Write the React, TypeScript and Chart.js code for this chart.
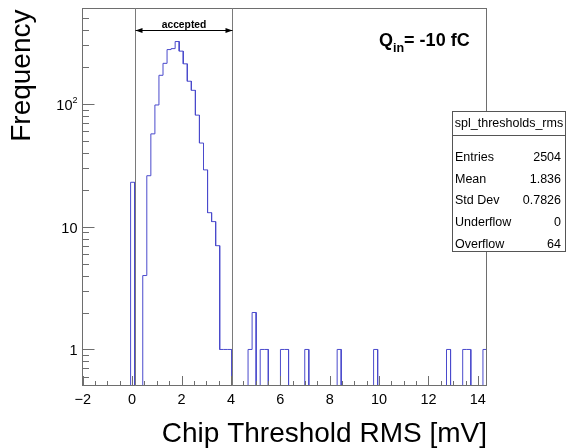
import React, { useEffect, useRef } from 'react';
import { Chart, registerables } from 'chart.js';

Chart.register(...registerables);

// ---------------- data ----------------
const X_MIN = -2.03;
const BIN_WIDTH = 0.164;
const X_MAX = X_MIN + 100 * BIN_WIDTH;
const Y_MIN = 0.504;
const Y_MAX = 604;

// 100 bins, counts
const binCounts: number[] = [
  0, 0, 0, 0, 0, 0, 0, 0, 0, 0,
  0, 0, 23, 0, 0, 4, 26, 57, 98, 171,
  214, 277, 282, 322, 269, 212, 153, 129, 81, 48,
  29, 13, 11, 7, 1, 1, 1, 0, 0, 0,
  0, 1, 2, 0, 1, 1, 0, 0, 0, 1,
  1, 0, 0, 0, 0, 1, 0, 0, 0, 0,
  0, 0, 0, 1, 0, 0, 0, 0, 0, 0,
  0, 0, 1, 0, 0, 0, 0, 0, 0, 0,
  0, 0, 0, 0, 0, 0, 0, 0, 0, 0,
  1, 0, 0, 0, 1, 1, 0, 0, 0, 1,
];

const xMajorTicks: number[] = [-2, 0, 2, 4, 6, 8, 10, 12, 14];
const xMinorTicks: number[] = [
  -1.5, -1, -0.5, 0.5, 1, 1.5, 2.5, 3, 3.5, 4.5, 5, 5.5, 6.5, 7, 7.5,
  8.5, 9, 9.5, 10.5, 11, 11.5, 12.5, 13, 13.5,
];
const yMajorTicks: number[] = [1, 10, 100];
const yMajorBase: string[] = ['1', '10', '10'];
const yMajorExp: string[] = ['', '', '2'];
const yMinorTicks: number[] = [
  0.6, 0.7, 0.8, 0.9, 2, 3, 4, 5, 6, 7, 8, 9,
  20, 30, 40, 50, 60, 70, 80, 90, 200, 300, 400, 500, 600,
];
const acceptedRange: number[] = [0.1, 4.03];
const statsTitle = 'spl_thresholds_rms';
const statsLabels: string[] = ['Entries', 'Mean', 'Std Dev', 'Underflow', 'Overflow'];
const statsValues: string[] = ['2504', '1.836', '0.7826', '0', '64'];
const xTitle = 'Chip Threshold RMS [mV]';
const yTitle = 'Frequency';

// ---------------- styles ----------------
const FONT = '"Liberation Sans", Arial, Helvetica, sans-serif';
const HIST_COLOR = '#4a4acc';
const AXIS_COLOR = '#6e6e6e';

const stepPoints = (() => {
  const pts: { x: number; y: number }[] = [];
  binCounts.forEach((c, k) => {
    const x0 = X_MIN + k * BIN_WIDTH;
    const x1 = x0 + BIN_WIDTH;
    const y = c > 0 ? c : 0.01;
    pts.push({ x: x0, y }, { x: x1, y });
  });
  return pts;
})();

const overlayPlugin = {
  id: 'rootOverlay',
  afterDraw(chart: any) {
    const ctx: CanvasRenderingContext2D = chart.ctx;
    const { left, right, top, bottom } = chart.chartArea;
    const xs = chart.scales.x;
    const ys = chart.scales.y;
    ctx.save();

    // frame
    ctx.strokeStyle = AXIS_COLOR;
    ctx.lineWidth = 1;
    ctx.strokeRect(left + 0.5, top + 0.5, right - left - 1, bottom - top - 1);

    // x ticks (inward)
    ctx.beginPath();
    xMajorTicks.forEach((v) => {
      const px = Math.round(xs.getPixelForValue(v)) + 0.5;
      ctx.moveTo(px, bottom);
      ctx.lineTo(px, bottom - 10);
    });
    xMinorTicks.forEach((v) => {
      const px = Math.round(xs.getPixelForValue(v)) + 0.5;
      ctx.moveTo(px, bottom);
      ctx.lineTo(px, bottom - 5);
    });
    // y ticks (inward)
    yMajorTicks.forEach((v) => {
      const py = Math.round(ys.getPixelForValue(v)) + 0.5;
      ctx.moveTo(left, py);
      ctx.lineTo(left + 12.5, py);
    });
    yMinorTicks.forEach((v) => {
      const py = Math.round(ys.getPixelForValue(v)) + 0.5;
      ctx.moveTo(left, py);
      ctx.lineTo(left + 7, py);
    });
    ctx.stroke();

    // accepted lines
    ctx.strokeStyle = '#7a7a7a';
    ctx.beginPath();
    const ax0 = Math.round(xs.getPixelForValue(acceptedRange[0])) + 0.5;
    const ax1 = Math.round(xs.getPixelForValue(acceptedRange[1])) + 0.5;
    ctx.moveTo(ax0, top);
    ctx.lineTo(ax0, bottom);
    ctx.moveTo(ax1, top);
    ctx.lineTo(ax1, bottom);
    ctx.stroke();

    // arrow
    const ay = 30.5;
    ctx.strokeStyle = '#000';
    ctx.fillStyle = '#000';
    ctx.beginPath();
    ctx.moveTo(ax0, ay);
    ctx.lineTo(ax1, ay);
    ctx.stroke();
    ctx.beginPath();
    ctx.moveTo(ax0, ay);
    ctx.lineTo(ax0 + 7, ay - 2.5);
    ctx.lineTo(ax0 + 7, ay + 2.5);
    ctx.closePath();
    ctx.moveTo(ax1, ay);
    ctx.lineTo(ax1 - 7, ay - 2.5);
    ctx.lineTo(ax1 - 7, ay + 2.5);
    ctx.closePath();
    ctx.fill();
    ctx.font = `bold 10.3px ${FONT}`;
    ctx.textAlign = 'center';
    ctx.textBaseline = 'alphabetic';
    ctx.fillText('accepted', (ax0 + ax1) / 2, 27.5);

    // tick labels
    ctx.fillStyle = '#000';
    ctx.font = `14.5px ${FONT}`;
    ctx.textAlign = 'center';
    ctx.textBaseline = 'alphabetic';
    xMajorTicks.forEach((v) => {
      const px = xs.getPixelForValue(v);
      const label = v < 0 ? '\u2212' + Math.abs(v) : String(v);
      ctx.fillText(label, px, 403.5);
    });
    ctx.textAlign = 'right';
    ctx.textBaseline = 'alphabetic';
    yMajorTicks.forEach((v, i) => {
      const py = ys.getPixelForValue(v);
      let rx = 77.5;
      if (yMajorExp[i]) {
        ctx.font = `9px ${FONT}`;
        ctx.fillText(yMajorExp[i], rx, py - 1);
        rx -= ctx.measureText(yMajorExp[i]).width;
      }
      ctx.font = `14.5px ${FONT}`;
      ctx.fillText(yMajorBase[i], rx, py + 6);
    });

    // axis titles
    ctx.font = `28px ${FONT}`;
    ctx.textAlign = 'right';
    ctx.textBaseline = 'alphabetic';
    ctx.fillText(xTitle, right, 442);
    ctx.save();
    ctx.translate(29.5, top + 1.5);
    ctx.rotate(-Math.PI / 2);
    ctx.fillText(yTitle, 0, 0);
    ctx.restore();

    // Q_in label
    ctx.textAlign = 'left';
    ctx.font = `bold 18px ${FONT}`;
    let qx = 379;
    ctx.fillText('Q', qx, 46);
    qx += ctx.measureText('Q').width;
    ctx.font = `bold 12.5px ${FONT}`;
    ctx.fillText('in', qx, 51.5);
    qx += ctx.measureText('in').width;
    ctx.font = `bold 18px ${FONT}`;
    ctx.fillText('= -10 fC', qx, 46);

    // stats box
    const bx = 452.5, by = 111.5, bw = 113, bh = 140;
    ctx.fillStyle = '#fff';
    ctx.fillRect(bx, by, bw, bh);
    ctx.strokeStyle = '#555';
    ctx.strokeRect(bx, by, bw, bh);
    ctx.beginPath();
    ctx.moveTo(bx, 135.5);
    ctx.lineTo(bx + bw, 135.5);
    ctx.stroke();
    ctx.fillStyle = '#000';
    ctx.font = `12.5px ${FONT}`;
    ctx.textBaseline = 'middle';
    ctx.textAlign = 'center';
    ctx.fillText(statsTitle, bx + bw / 2, 123.5);
    statsLabels.forEach((lab, i) => {
      const yy = 157.5 + i * 21.75;
      ctx.textAlign = 'left';
      ctx.fillText(lab, 455, yy);
      ctx.textAlign = 'right';
      ctx.fillText(statsValues[i], 561, yy);
    });

    ctx.restore();
  },
};

export default function App() {
  const ref = useRef<HTMLCanvasElement>(null);
  useEffect(() => {
    const canvas = ref.current;
    if (!canvas) return;
    const chart = new Chart(canvas, {
      type: 'line',
      data: {
        datasets: [
          {
            data: stepPoints,
            borderColor: HIST_COLOR,
            borderWidth: 1,
            pointRadius: 0,
            tension: 0,
            fill: false,
          },
        ],
      },
      options: {
        responsive: false,
        animation: false,
        devicePixelRatio: 1,
        layout: { padding: { left: 82, top: 8, right: 80, bottom: 62 } },
        plugins: { legend: { display: false }, tooltip: { enabled: false } },
        scales: {
          x: { type: 'linear', min: X_MIN, max: X_MAX, display: false },
          y: { type: 'logarithmic', min: Y_MIN, max: Y_MAX, display: false },
        },
      } as any,
      plugins: [overlayPlugin],
    });
    return () => chart.destroy();
  }, []);
  return (
    <div style={{ position: 'fixed', left: 0, top: 0, width: 567, height: 448, background: '#fff' }}>
      <canvas ref={ref} width={567} height={448} style={{ display: 'block' }} />
    </div>
  );
}
